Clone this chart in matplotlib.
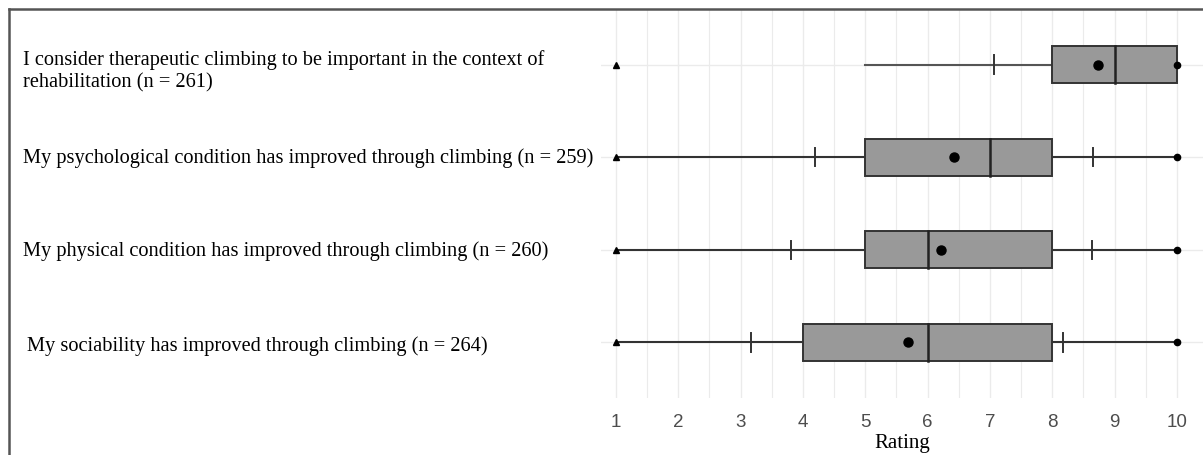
import matplotlib
matplotlib.use("Agg")
import matplotlib.pyplot as plt
from matplotlib.lines import Line2D
from matplotlib.patches import Rectangle
from matplotlib.transforms import blended_transform_factory

# ---- data (top row first) ----
labels = [
    "I consider therapeutic climbing to be important in the context of\nrehabilitation (n = 261)",
    "My psychological condition has improved through climbing (n = 259)",
    "My physical condition has improved through climbing (n = 260)",
    "My sociability has improved through climbing (n = 264)",
]
minimum = [1, 1, 1, 1]
whisker_low = [5, 1, 1, 1]
q1 = [8, 5, 5, 4]
median = [9, 7, 6, 6]
q3 = [10, 8, 8, 8]
whisker_high = [10, 10, 10, 10]
maximum = [10, 10, 10, 10]
means = [8.73, 6.42, 6.22, 5.68]
sd_low = [7.06, 4.19, 3.81, 3.17]
sd_high = [None, 8.66, 8.64, 8.17]
x_ticks = [1, 2, 3, 4, 5, 6, 7, 8, 9, 10]
x_label = "Rating"

W, H = 1203, 456
fig = plt.figure(figsize=(W / 100, H / 100), dpi=100)
ax = fig.add_axes([601 / W, 1 - 399 / H, (W - 601) / W, (399 - 10) / H])

n = len(labels)
ypos = [n - i for i in range(n)]

ax.set_xlim(0.76, 10.42)
ax.set_ylim(0.4, 4.6)

# grid
for v in [x / 2 for x in range(2, 21)]:
    ax.axvline(v, color="#ebebeb", lw=1.0 if v == int(v) else 0.8, zorder=0)
for y in ypos:
    ax.axhline(y, color="#ebebeb", lw=1.0, zorder=0)

bh = 0.2
for i, y in enumerate(ypos):
    wcol = "#555555" if i == 0 else "#333333"
    ax.plot([whisker_low[i], whisker_high[i]], [y, y], color=wcol, lw=1.5, zorder=1)
    ax.add_patch(Rectangle((q1[i], y - bh), q3[i] - q1[i], 2 * bh,
                           facecolor="#999999", edgecolor="#333333", lw=1.4, zorder=2))
    ax.plot([median[i], median[i]], [y - bh, y + bh], color="#222222", lw=1.8, zorder=3)
    for s in (sd_low[i], sd_high[i]):
        if s is not None:
            ax.plot([s, s], [y - 0.1, y + 0.1], color="#333333", lw=1.4, zorder=3)
    ax.plot(means[i], y, "o", color="black", ms=6.5, zorder=4)
    ax.plot(maximum[i], y, "o", color="black", ms=4.5, zorder=4)
    ax.plot(minimum[i], y, "^", color="black", ms=4.5, zorder=4)

ax.set_xticks(x_ticks)
ax.set_xticklabels([str(t) for t in x_ticks], family="Liberation Sans",
                   fontsize=13.5, color="#4d4d4d")
ax.tick_params(axis="x", length=0, pad=11)
ax.set_yticks([])
for sp in ax.spines.values():
    sp.set_visible(False)

fig.text(902 / W, 1 - 444 / H, x_label, family="Liberation Serif", fontsize=15,
         ha="center", va="center", color="black")

tr = blended_transform_factory(fig.transFigure, ax.transData)
x_off = [23, 23, 23, 27]
y_adj = [-0.06, 0, 0, -0.03]
for i, y in enumerate(ypos):
    ax.text(x_off[i] / W, y + y_adj[i], labels[i], transform=tr, ha="left", va="center",
            family="Liberation Serif", fontsize=14.65, color="black", linespacing=1.2,
            clip_on=False)

# outer frame (top and left)
fig.add_artist(Line2D([9 / W, 9 / W], [0, 1 - 10 / H], transform=fig.transFigure,
                      color="#555555", lw=1.8))
fig.add_artist(Line2D([9 / W, 1], [1 - 10 / H, 1 - 10 / H], transform=fig.transFigure,
                      color="#555555", lw=1.8))

fig.savefig("out.png", dpi=100)
